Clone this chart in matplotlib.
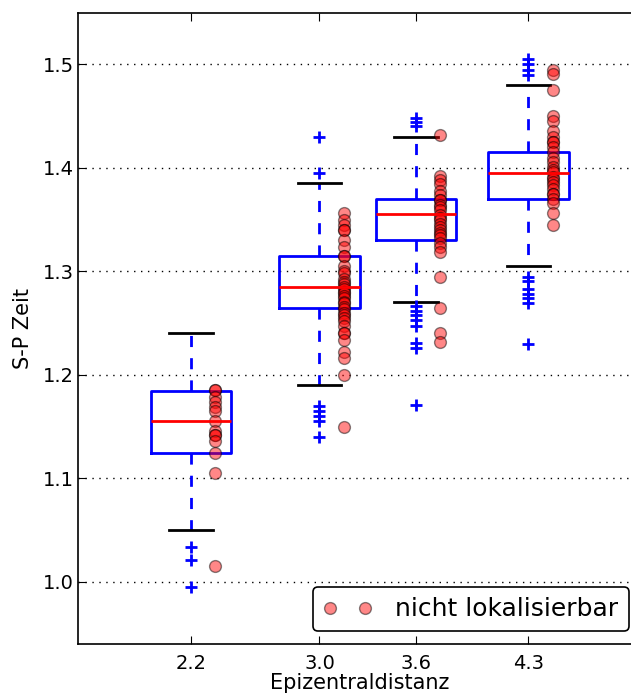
import matplotlib
matplotlib.use('Agg')
import matplotlib.pyplot as plt

# epicentral distance classes
distances = [2.2, 3.0, 3.6, 4.3]
tick_labels = ["2.2", "3.0", "3.6", "4.3"]

# box statistics of the S-P time per class
q1 = [1.125, 1.265, 1.330, 1.370]
med = [1.155, 1.285, 1.355, 1.395]
q3 = [1.184, 1.315, 1.370, 1.415]
whislo = [1.050, 1.190, 1.270, 1.305]
whishi = [1.240, 1.385, 1.430, 1.480]
fliers_22 = [1.034, 1.021, 0.995]
fliers_30 = [1.430, 1.395, 1.170, 1.165, 1.160, 1.155, 1.140]
fliers_36 = [1.448, 1.444, 1.440, 1.267, 1.262, 1.258, 1.253, 1.247,
             1.231, 1.226, 1.171]
fliers_43 = [1.505, 1.500, 1.495, 1.490, 1.295, 1.291, 1.283, 1.278,
             1.274, 1.269, 1.230]

# events that could not be located
nl_22 = [1.185, 1.185, 1.179, 1.174, 1.169, 1.165, 1.155, 1.146, 1.142,
         1.142, 1.136, 1.125, 1.105, 1.015]
nl_30 = [1.356, 1.350, 1.345, 1.340, 1.340, 1.330, 1.324, 1.315, 1.315,
         1.305, 1.300, 1.298, 1.293, 1.290, 1.288, 1.285, 1.283, 1.280,
         1.279, 1.276, 1.274, 1.270, 1.269, 1.266, 1.264, 1.260, 1.258,
         1.255, 1.252, 1.247, 1.240, 1.240, 1.234, 1.222, 1.216, 1.200,
         1.150]
nl_36 = [1.432, 1.392, 1.388, 1.384, 1.378, 1.374, 1.369, 1.369, 1.364,
         1.362, 1.359, 1.354, 1.352, 1.350, 1.346, 1.343, 1.340, 1.337,
         1.335, 1.332, 1.327, 1.324, 1.319, 1.295, 1.265, 1.240, 1.232]
nl_43 = [1.495, 1.491, 1.475, 1.450, 1.445, 1.436, 1.430, 1.425, 1.425,
         1.420, 1.415, 1.410, 1.406, 1.401, 1.398, 1.396, 1.391, 1.389,
         1.386, 1.383, 1.380, 1.375, 1.375, 1.370, 1.366, 1.356, 1.345]

fliers = [fliers_22, fliers_30, fliers_36, fliers_43]
not_located = [nl_22, nl_30, nl_36, nl_43]

stats = []
for i in range(len(distances)):
    stats.append({"q1": q1[i], "med": med[i], "q3": q3[i],
                  "whislo": whislo[i], "whishi": whishi[i],
                  "fliers": fliers[i]})

fig = plt.figure(figsize=(6.31, 6.98), dpi=100)
ax = fig.add_axes([0.1241, 0.0774, 0.8918, 0.9045])

ax.bxp(stats, positions=distances, widths=0.5, capwidths=0.27,
       boxprops=dict(color="blue", linewidth=2),
       medianprops=dict(color="red", linewidth=2),
       whiskerprops=dict(color="blue", linewidth=2, linestyle=(0, (4, 4))),
       capprops=dict(color="black", linewidth=2),
       flierprops=dict(marker="+", markeredgecolor="blue", markersize=8,
                       markeredgewidth=2, linestyle="none"))

offset = 0.15
for i, d in enumerate(distances):
    ax.plot([d + offset] * len(not_located[i]), not_located[i], "o",
            color="red", markeredgecolor="black", alpha=0.47,
            markersize=8.5, label="nicht lokalisierbar" if i == 0 else None)

ax.set_xlim(1.5, 5.0)
ax.set_ylim(0.94, 1.55)
ax.set_xticks(distances)
ax.set_xticklabels(tick_labels)
ax.set_yticks([1.0, 1.1, 1.2, 1.3, 1.4, 1.5])
ax.yaxis.grid(True, linestyle=(0, (1, 4)), color="black", linewidth=1)
ax.set_axisbelow(True)
ax.tick_params(direction="in", top=True, right=True, labelsize=14, length=6)
ax.tick_params(axis="x", pad=7)
ax.tick_params(axis="y", pad=3)
for s in ax.spines.values():
    s.set_linewidth(1.2)

ax.set_xlabel("Epizentraldistanz", fontsize=15, labelpad=0)
ax.set_ylabel("S-P Zeit", fontsize=15, labelpad=7)

leg = ax.legend(loc="lower right", numpoints=2, fontsize=18,
                fancybox=True, framealpha=1, edgecolor="black",
                borderaxespad=0.5, handletextpad=0.9)
leg.get_frame().set_linewidth(1.2)

fig.savefig("out.png", dpi=100)
